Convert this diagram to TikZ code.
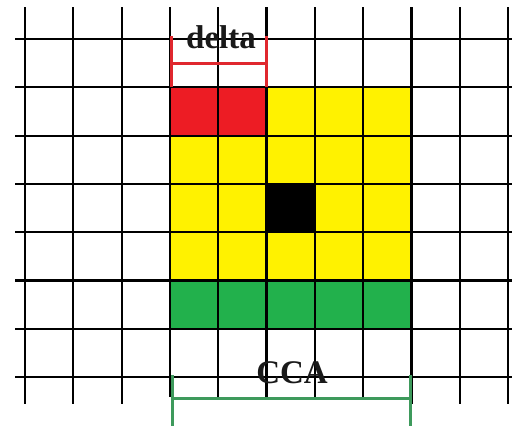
\documentclass[tikz,border=0pt]{standalone}
\usepackage{fontspec}
\setmainfont{Liberation Serif}
\definecolor{cred}{HTML}{ED1C24}
\definecolor{cyel}{HTML}{FFF200}
\definecolor{cgrn}{HTML}{22B14C}
\definecolor{bgrn}{HTML}{3E9A5C}
\definecolor{bred}{HTML}{E0282E}
\begin{document}
\begin{tikzpicture}[x=1pt,y=-1pt,
  gridline/.style={line width=2.2pt,black},
  redbr/.style={line width=3pt,bred},
  grnbr/.style={line width=3pt,bgrn},
  lbl/.style={font=\fontsize{33}{36}\selectfont\bfseries,anchor=base,inner sep=0pt,text=black!90}]
\useasboundingbox (0,0) rectangle (512,426);
\pgfmathsetmacro{\c}{48.3}
% coloured cells
\fill[cyel] (169.9,87.3) rectangle (411.4,328.8);
\fill[cred] (169.9,87.3) rectangle (266.5,135.6);
\fill[cgrn] (169.9,280.5) rectangle (411.4,328.8);
\fill[black] (266.5,183.9) rectangle (314.8,232.2);
% grid
\foreach \i in {0,1,2,8,9,10}{
  \draw[gridline] ({25+\c*\i},7) -- ({25+\c*\i},404);
}
\foreach \i in {3,4,5,6,7}{
  \draw[gridline] ({25+\c*\i},7) -- ({25+\c*\i},397);
}
\foreach \j in {0,...,7}{
  \draw[gridline] (15,{39+\c*\j}) -- (512,{39+\c*\j});
}
% delta bracket
\coordinate (dl) at (171.5,36);
\coordinate (dr) at (266,36);
\draw[redbr] (dl) -- (171.5,87) (171.5,63) -- (266,63) (dr) -- (266,87);
\node[lbl] (delta) at (221,48) {delta};
% CCA bracket
\coordinate (cl) at (172,375);
\coordinate (cr) at (410,375);
\draw[grnbr] (cl) -- (172,426) (172,398) -- (410,398) (cr) -- (410,426);
\node[lbl] (cca) at (292,383) {CCA};
\end{tikzpicture}
\end{document}
